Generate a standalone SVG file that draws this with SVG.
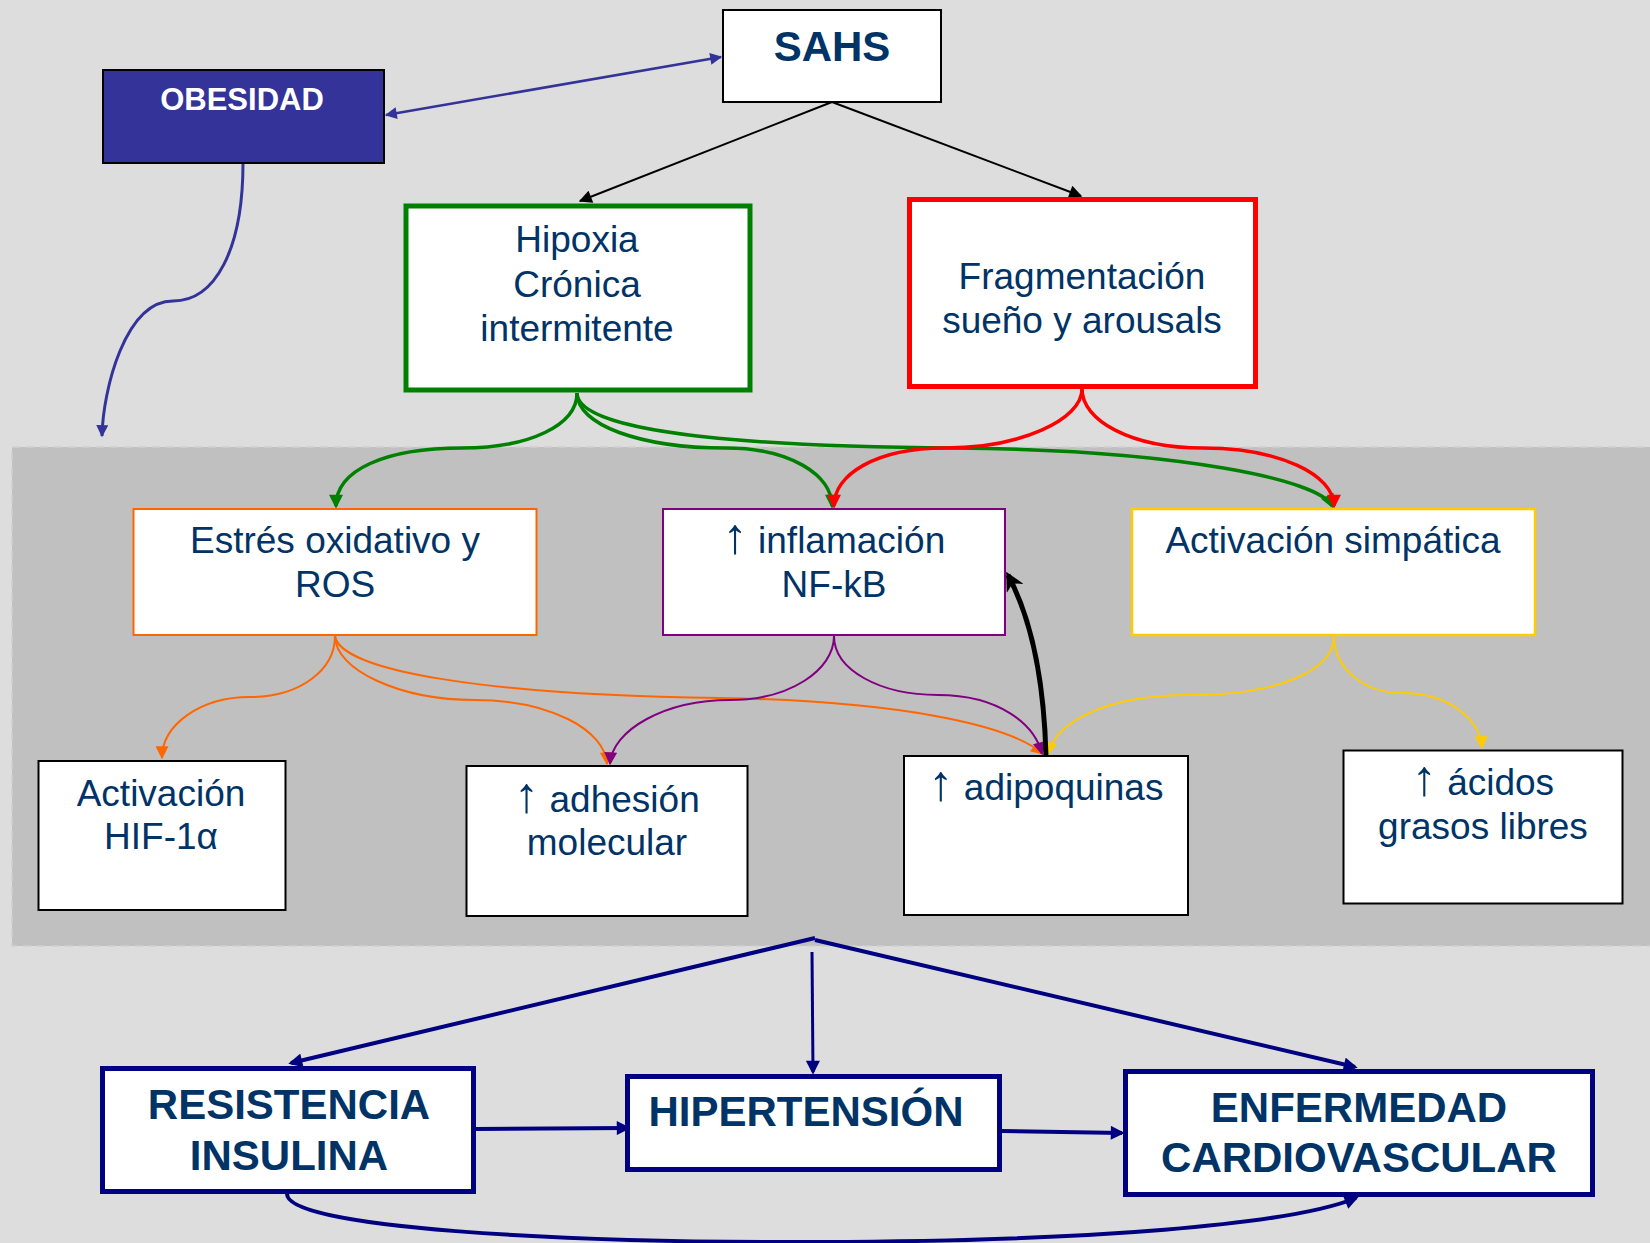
<svg xmlns="http://www.w3.org/2000/svg" width="1650" height="1243" viewBox="0 0 1650 1243">
<style>
  .t { font-family: "Liberation Sans", Arial, sans-serif; font-size: 37px; fill: #003366; text-anchor: middle; }
  .tb { font-family: "Liberation Sans", Arial, sans-serif; font-size: 42px; font-weight: bold; fill: #003366; text-anchor: middle; }
  .up { font-size: 50px; }
  .box { fill: #ffffff; }
  .c { fill: none; }
</style>
<defs>
  <marker id="aK" viewBox="0 0 10 10" refX="9" refY="5" markerWidth="16" markerHeight="13" markerUnits="userSpaceOnUse" orient="auto"><path d="M0,0 L10,5 L0,10 z" fill="#000000"/></marker>
  <marker id="aKb" viewBox="0 0 10 10" refX="8" refY="5" markerWidth="24" markerHeight="19" markerUnits="userSpaceOnUse" orient="auto"><path d="M0,0 L10,5 L0,10 L3,5 z" fill="#000000"/></marker>
  <marker id="aB" viewBox="0 0 10 10" refX="9" refY="5" markerWidth="15" markerHeight="12" markerUnits="userSpaceOnUse" orient="auto-start-reverse"><path d="M0,0 L10,5 L0,10 z" fill="#333399"/></marker>
  <marker id="aG" viewBox="0 0 10 10" refX="8" refY="5" markerWidth="17" markerHeight="14" markerUnits="userSpaceOnUse" orient="auto"><path d="M0,0 L10,5 L0,10 z" fill="#008000"/></marker>
  <marker id="aR" viewBox="0 0 10 10" refX="8" refY="5" markerWidth="17" markerHeight="14" markerUnits="userSpaceOnUse" orient="auto"><path d="M0,0 L10,5 L0,10 z" fill="#ff0000"/></marker>
  <marker id="aO" viewBox="0 0 10 10" refX="9" refY="5" markerWidth="16" markerHeight="13" markerUnits="userSpaceOnUse" orient="auto"><path d="M0,0 L10,5 L0,10 z" fill="#ff6600"/></marker>
  <marker id="aP" viewBox="0 0 10 10" refX="9" refY="5" markerWidth="16" markerHeight="13" markerUnits="userSpaceOnUse" orient="auto"><path d="M0,0 L10,5 L0,10 z" fill="#800080"/></marker>
  <marker id="aY" viewBox="0 0 10 10" refX="9" refY="5" markerWidth="16" markerHeight="13" markerUnits="userSpaceOnUse" orient="auto"><path d="M0,0 L10,5 L0,10 z" fill="#ffcc00"/></marker>
  <marker id="aN" viewBox="0 0 10 10" refX="8" refY="5" markerWidth="16" markerHeight="14" markerUnits="userSpaceOnUse" orient="auto"><path d="M0,0 L10,5 L0,10 z" fill="#000080"/></marker>
</defs>

<rect x="0" y="0" width="1650" height="1243" fill="#dddddd"/>
<rect x="12" y="447" width="1650" height="499" fill="#c0c0c0" stroke="#d0d0d0" stroke-width="1.5" stroke-dasharray="8 6"/>

<g id="connectors">
  <path class="c" d="M832,102 L580,201" stroke="#000000" stroke-width="2" marker-end="url(#aK)"/>
  <path class="c" d="M832,102 L1081,196" stroke="#000000" stroke-width="2" marker-end="url(#aK)"/>
  <path class="c" d="M386,115 L721,57" stroke="#333399" stroke-width="2.5" marker-start="url(#aB)" marker-end="url(#aB)"/>
  <path class="c" d="M243,163 C243,250 215,301 173,301 C125,301 103,390 102,436" stroke="#333399" stroke-width="3" marker-end="url(#aB)"/>

  <path class="c" d="M577,393 C577,425 530,448 462,448 C385,448 336,470 336,506" stroke="#008000" stroke-width="3.5" marker-end="url(#aG)"/>
  <path class="c" d="M577,393 C577,425 640,448 726,448 C790,448 832,475 832,506" stroke="#008000" stroke-width="3.5" marker-end="url(#aG)"/>
  <path class="c" d="M577,393 C577,420 660,446 955,448 C1180,450 1320,480 1332,506" stroke="#008000" stroke-width="3.5" marker-end="url(#aG)"/>
  <path class="c" d="M1082,389 C1082,420 1020,448 945,448 C875,448 834,475 834,506" stroke="#ff0000" stroke-width="3.5" marker-end="url(#aR)"/>
  <path class="c" d="M1082,389 C1082,420 1130,448 1203,448 C1280,448 1334,475 1334,506" stroke="#ff0000" stroke-width="3.5" marker-end="url(#aR)"/>

  <path class="c" d="M335,636 C335,670 300,697 250,697 C200,697 162,725 162,758" stroke="#ff6600" stroke-width="2" marker-end="url(#aO)"/>
  <path class="c" d="M335,636 C335,670 400,700 475,700 C550,700 605,730 607,764" stroke="#ff6600" stroke-width="2" marker-end="url(#aO)"/>
  <path class="c" d="M335,636 C340,670 480,695 720,698 C900,701 1010,725 1043,754" stroke="#ff6600" stroke-width="2" marker-end="url(#aO)"/>
  <path class="c" d="M834,636 C834,670 790,700 730,700 C665,700 612,730 610,764" stroke="#800080" stroke-width="2" marker-end="url(#aP)"/>
  <path class="c" d="M834,636 C834,670 880,695 938,695 C1000,695 1035,725 1042,754" stroke="#800080" stroke-width="2" marker-end="url(#aP)"/>
  <path class="c" d="M1334,636 C1334,670 1280,695 1190,695 C1100,695 1055,725 1048,754" stroke="#ffcc00" stroke-width="2" marker-end="url(#aY)"/>
  <path class="c" d="M1334,636 C1334,665 1360,693 1402,693 C1450,693 1480,720 1482,748" stroke="#ffcc00" stroke-width="2" marker-end="url(#aY)"/>

  <path class="c" d="M1046,756 C1044,680 1032,620 1008,575" stroke="#000000" stroke-width="5" marker-end="url(#aKb)"/>

  <path class="c" d="M815,938 L291,1063" stroke="#000080" stroke-width="4" marker-end="url(#aN)"/>
  <path class="c" d="M815,940 L1355,1067" stroke="#000080" stroke-width="4" marker-end="url(#aN)"/>
  <path class="c" d="M812,952 L813,1072" stroke="#000080" stroke-width="3" marker-end="url(#aN)"/>
  <path class="c" d="M476,1129 L628,1128" stroke="#000080" stroke-width="4" marker-end="url(#aN)"/>
  <path class="c" d="M1002,1131 L1122,1133" stroke="#000080" stroke-width="4" marker-end="url(#aN)"/>
  <path class="c" d="M287,1194 C287,1228 560,1243 820,1242 C1090,1241 1290,1225 1356,1198" stroke="#000080" stroke-width="4" marker-end="url(#aN)"/>
</g>

<g id="sahs">
  <rect class="box" x="723" y="10" width="218" height="92" stroke="#000000" stroke-width="2"/>
  <text class="tb" x="832" y="61">SAHS</text>
</g>
<g id="obesidad">
  <rect x="103" y="70" width="281" height="93" fill="#333399" stroke="#000000" stroke-width="2"/>
  <text x="242" y="110" font-family="Liberation Sans, Arial, sans-serif" font-size="31" font-weight="bold" fill="#ffffff" text-anchor="middle">OBESIDAD</text>
</g>
<g id="hipoxia">
  <rect class="box" x="406" y="206" width="344" height="184" stroke="#008000" stroke-width="5"/>
  <text class="t" x="577" y="252">Hipoxia</text>
  <text class="t" x="577" y="297">Crónica</text>
  <text class="t" x="577" y="341">intermitente</text>
</g>
<g id="fragmentacion">
  <rect class="box" x="909.5" y="199.5" width="346" height="187" stroke="#ff0000" stroke-width="5"/>
  <text class="t" x="1082" y="289">Fragmentación</text>
  <text class="t" x="1082" y="333">sueño y arousals</text>
</g>
<g id="estres">
  <rect class="box" x="133.5" y="509" width="403" height="126" stroke="#ff6600" stroke-width="2"/>
  <text class="t" x="335" y="553">Estrés oxidativo y</text>
  <text class="t" x="335" y="597">ROS</text>
</g>
<g id="inflamacion">
  <rect class="box" x="663" y="509" width="342" height="126" stroke="#800080" stroke-width="2"/>
  <text class="t" x="834" y="553"><tspan class="up">↑</tspan> inflamación</text>
  <text class="t" x="834" y="597">NF-kB</text>
</g>
<g id="simpatica">
  <rect class="box" x="1132" y="509" width="403" height="126" stroke="#ffcc00" stroke-width="2.5"/>
  <text class="t" x="1333" y="553">Activación simpática</text>
</g>
<g id="hif">
  <rect class="box" x="38.5" y="761" width="247" height="149" stroke="#000000" stroke-width="2"/>
  <text class="t" x="161" y="806">Activación</text>
  <text class="t" x="161" y="849">HIF-1α</text>
</g>
<g id="adhesion">
  <rect class="box" x="466.5" y="766" width="281" height="150" stroke="#000000" stroke-width="2"/>
  <text class="t" x="607" y="812"><tspan class="up">↑</tspan> adhesión</text>
  <text class="t" x="607" y="855">molecular</text>
</g>
<g id="adipoquinas">
  <rect class="box" x="904" y="756" width="284" height="159" stroke="#000000" stroke-width="2"/>
  <text class="t" x="1046" y="800"><tspan class="up">↑</tspan> adipoquinas</text>
</g>
<g id="acidos">
  <rect class="box" x="1343.5" y="750.5" width="279" height="153" stroke="#000000" stroke-width="2"/>
  <text class="t" x="1483" y="795"><tspan class="up">↑</tspan> ácidos</text>
  <text class="t" x="1483" y="839">grasos libres</text>
</g>
<g id="resistencia">
  <rect class="box" x="102.5" y="1068.5" width="371" height="123" stroke="#000080" stroke-width="5"/>
  <text class="tb" x="289" y="1119">RESISTENCIA</text>
  <text class="tb" x="289" y="1170">INSULINA</text>
</g>
<g id="hipertension">
  <rect class="box" x="627.5" y="1076.5" width="372" height="93" stroke="#000080" stroke-width="5"/>
  <text class="tb" x="806" y="1126">HIPERTENSIÓN</text>
</g>
<g id="enfermedad">
  <rect class="box" x="1125.5" y="1071.5" width="467" height="123" stroke="#000080" stroke-width="5"/>
  <text class="tb" x="1359" y="1122">ENFERMEDAD</text>
  <text class="tb" x="1359" y="1172">CARDIOVASCULAR</text>
</g>
</svg>
